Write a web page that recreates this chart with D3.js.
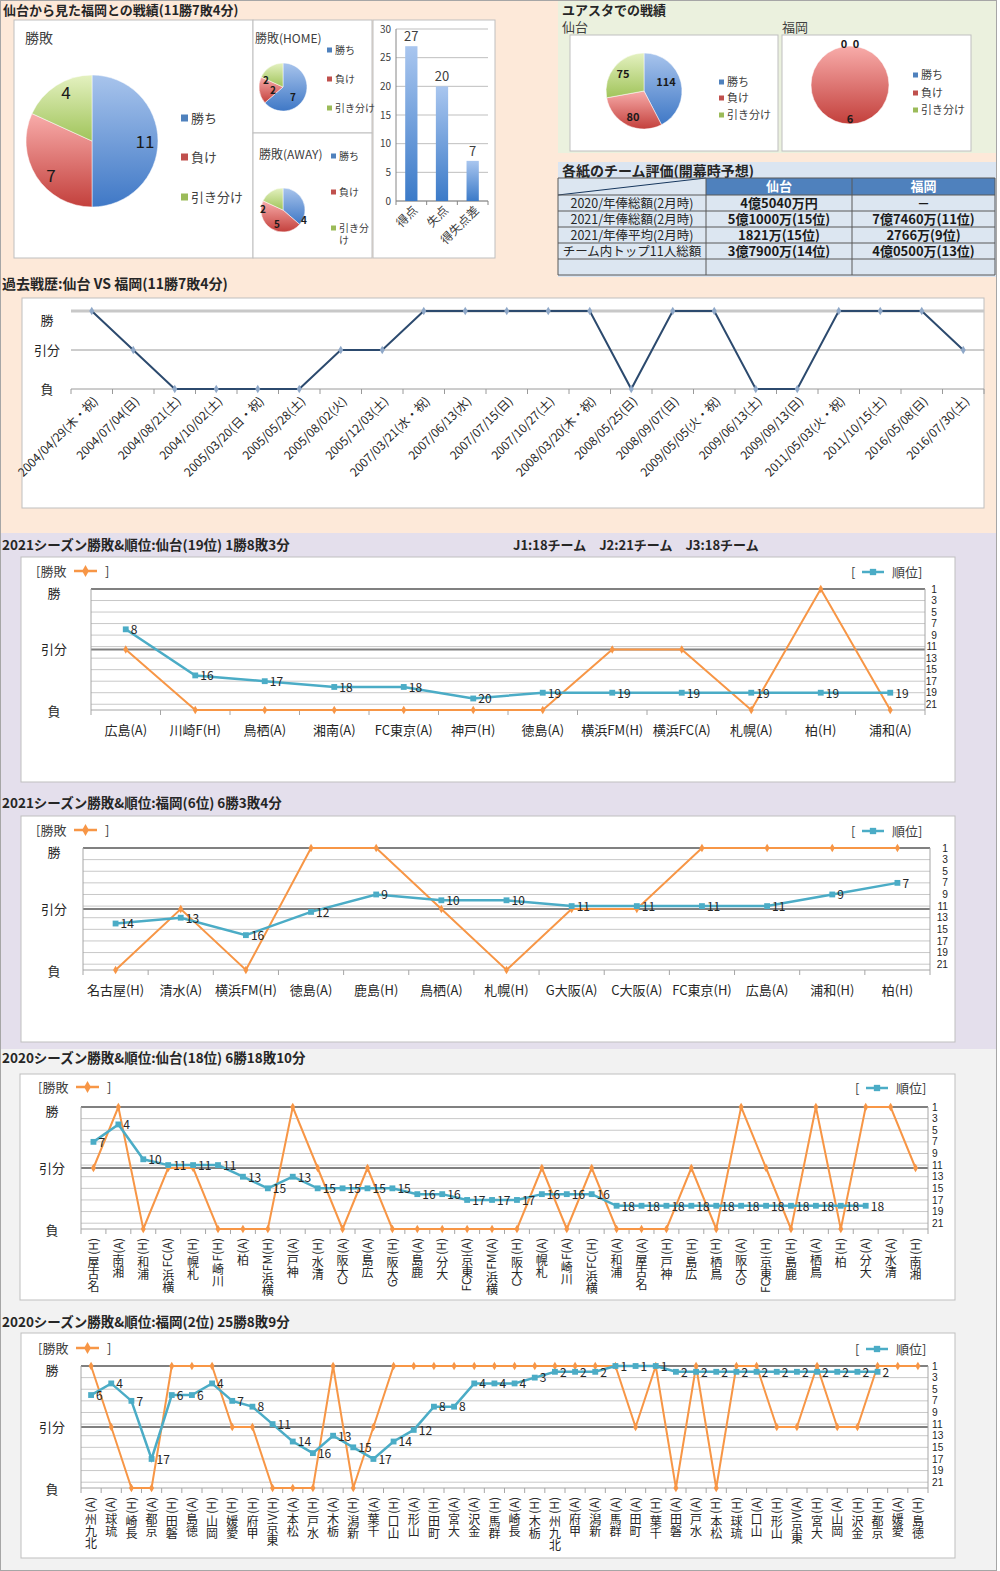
<!DOCTYPE html>
<html><head><meta charset="utf-8">
<script src="https://cdn.jsdelivr.net/npm/d3@7/dist/d3.min.js"></script>
<style>
body{margin:0;background:#fff}
svg{display:block}
text{font-family:"Noto Sans CJK JP","Noto Sans",sans-serif;fill:#262626}
text.num{font-family:"Liberation Sans","DejaVu Sans",sans-serif}
</style>
</head><body>
<svg id="c" width="1000" height="1571"></svg>
<script>
// ---------------- DATA ----------------
const pieLabels = ["勝ち", "負け", "引き分け"];
const totalRecord = [11, 7, 4];
const homeRecord = [7, 2, 2];
const awayRecord = [4, 5, 2];
const goalCats = ["得点", "失点", "得失点差"];
const goalVals = [27, 20, 7];
const goalTicks = [0, 5, 10, 15, 20, 25, 30];
const yuasutaSendai = [114, 80, 75];
const yuasutaFukuoka = [0, 6, 0];
const tableHead = ["", "仙台", "福岡"];
const tableCol1 = ["2020/年俸総額(2月時)", "2021/年俸総額(2月時)", "2021/年俸平均(2月時)", "チーム内トップ11人総額", ""];
const tableSendai = ["4億5040万円", "5億1000万(15位)", "1821万(15位)", "3億7900万(14位)", ""];
const tableFukuoka = ["－", "7億7460万(11位)", "2766万(9位)", "4億0500万(13位)", ""];
const resultLevels = ["勝", "引分", "負"];
const pastDates = ["2004/04/29(木・祝)", "2004/07/04(日)", "2004/08/21(土)", "2004/10/02(土)", "2005/03/20(日・祝)", "2005/05/28(土)", "2005/08/02(火)", "2005/12/03(土)", "2007/03/21(水・祝)", "2007/06/13(水)", "2007/07/15(日)", "2007/10/27(土)", "2008/03/20(木・祝)", "2008/05/25(日)", "2008/09/07(日)", "2009/05/05(火・祝)", "2009/06/13(土)", "2009/09/13(日)", "2011/05/03(火・祝)", "2011/10/15(土)", "2016/05/08(日)", "2016/07/30(土)"];
const pastResults = ["勝", "引分", "負", "負", "負", "負", "引分", "引分", "勝", "勝", "勝", "勝", "勝", "負", "勝", "勝", "負", "負", "勝", "勝", "勝", "引分"];

const s21SendaiCats = ["広島(A)", "川崎F(H)", "鳥栖(A)", "湘南(A)", "FC東京(A)", "神戸(H)", "徳島(A)", "横浜FM(H)", "横浜FC(A)", "札幌(A)", "柏(H)", "浦和(A)"];
const s21SendaiRes = ["引分", "負", "負", "負", "負", "負", "負", "引分", "引分", "負", "勝", "負"];
const s21SendaiRank = [8, 16, 17, 18, 18, 20, 19, 19, 19, 19, 19, 19];

const s21FukuokaCats = ["名古屋(H)", "清水(A)", "横浜FM(H)", "徳島(A)", "鹿島(H)", "鳥栖(A)", "札幌(H)", "G大阪(A)", "C大阪(A)", "FC東京(H)", "広島(A)", "浦和(H)", "柏(H)"];
const s21FukuokaRes = ["負", "引分", "負", "勝", "勝", "引分", "負", "引分", "引分", "勝", "勝", "勝", "勝"];
const s21FukuokaRank = [14, 13, 16, 12, 9, 10, 10, 11, 11, 11, 11, 9, 7];

const s20SendaiCats = ["名古屋(H)", "湘南(A)", "浦和(H)", "横浜FC(A)", "札幌(H)", "川崎F(H)", "柏(A)", "横浜FM(H)", "神戸(A)", "清水(H)", "C大阪(A)", "広島(A)", "G大阪(H)", "鹿島(A)", "大分(H)", "FC東京(A)", "横浜FM(A)", "C大阪(H)", "札幌(A)", "川崎F(A)", "横浜FC(H)", "浦和(A)", "名古屋(A)", "神戸(H)", "広島(H)", "鳥栖(H)", "G大阪(A)", "FC東京(H)", "鹿島(H)", "鳥栖(A)", "柏(H)", "大分(A)", "清水(A)", "湘南(H)"];
const s20SendaiRes = ["引分", "勝", "負", "引分", "引分", "負", "負", "負", "勝", "引分", "負", "引分", "負", "負", "負", "負", "負", "負", "引分", "負", "引分", "負", "負", "負", "引分", "負", "勝", "引分", "負", "勝", "負", "勝", "勝", "引分"];
const s20SendaiRank = [7, 4, 10, 11, 11, 11, 13, 15, 13, 15, 15, 15, 15, 16, 16, 17, 17, 17, 16, 16, 16, 18, 18, 18, 18, 18, 18, 18, 18, 18, 18, 18, null, null];

const s20FukuokaCats = ["北九州(A)", "琉球(A)", "長崎(H)", "京都(A)", "磐田(H)", "徳島(A)", "岡山(H)", "愛媛(H)", "甲府(H)", "東京V(H)", "松本(A)", "水戸(H)", "栃木(A)", "新潟(H)", "千葉(A)", "山口(H)", "山形(A)", "町田(H)", "大宮(A)", "金沢(A)", "群馬(H)", "長崎(A)", "栃木(H)", "北九州(H)", "甲府(A)", "新潟(A)", "群馬(A)", "町田(A)", "千葉(H)", "磐田(A)", "水戸(A)", "松本(H)", "琉球(H)", "山口(A)", "山形(H)", "東京V(A)", "大宮(H)", "岡山(A)", "金沢(H)", "京都(H)", "愛媛(A)", "徳島(H)"];
const s20FukuokaRes = ["勝", "引分", "負", "負", "勝", "勝", "勝", "引分", "引分", "負", "負", "負", "勝", "負", "引分", "勝", "勝", "勝", "勝", "勝", "勝", "勝", "勝", "勝", "勝", "勝", "勝", "引分", "勝", "負", "勝", "負", "勝", "勝", "引分", "引分", "勝", "引分", "引分", "勝", "勝", "勝"];
const s20FukuokaRank = [6, 4, 7, 17, 6, 6, 4, 7, 8, 11, 14, 16, 13, 15, 17, 14, 12, 8, 8, 4, 4, 4, 3, 2, 2, 2, 1, 1, 1, 2, 2, 2, 2, 2, 2, 2, 2, 2, 2, 2, null, null];
const rankTicks = [1, 3, 5, 7, 9, 11, 13, 15, 17, 19, 21];

// ---------------- DRAW ----------------
const svg = d3.select("#c");
const defs = svg.append("defs");
function vgrad(id, c1, c2) {
  const g = defs.append("linearGradient").attr("id", id).attr("x1", 0).attr("y1", 0).attr("x2", 0).attr("y2", 1);
  g.append("stop").attr("offset", "0%").attr("stop-color", c1);
  g.append("stop").attr("offset", "100%").attr("stop-color", c2);
}
vgrad("gBlue", "#a8c4ec", "#3f78c6");
vgrad("gRed", "#f8acaa", "#c3403c");
vgrad("gGreen", "#e4f1c0", "#a0c45a");
vgrad("gBar", "#a9c6ef", "#3b7ac8");
const pieFills = ["url(#gBlue)", "url(#gRed)", "url(#gGreen)"];
const legendColors = ["#4f81bd", "#c0504d", "#9bbb59"];
const ORANGE = "#f79646", TEAL = "#4bacc6";

function rect(x, y, w, h, fill, stroke, sw, parent) {
  return (parent || svg).append("rect").attr("x", x).attr("y", y).attr("width", w).attr("height", h)
    .attr("fill", fill).attr("stroke", stroke || "none").attr("stroke-width", sw || 1);
}
function txt(g, x, y, s, fs, opts) {
  opts = opts || {};
  const t = g.append("text").attr("x", x).attr("y", y).attr("font-size", fs).text(s);
  if (opts.anchor) t.attr("text-anchor", opts.anchor);
  if (opts.bold) t.attr("font-weight", "bold");
  if (opts.fill) t.style("fill", opts.fill);
  if (opts.dy) t.attr("dy", opts.dy);
  return t;
}

// backgrounds
rect(0, 0, 997, 533, "#fde9d9");
rect(558, 0, 438, 153, "#ebf1de");
rect(558, 162, 438, 115, "#dbe5f1");
rect(0, 533, 997, 516, "#e4dfec");
rect(0, 1049, 997, 522, "#f2f2f2");
rect(0.5, 0.5, 996, 1570, "none", "#a6a6a6");

// ---------- top-left: record ----------
txt(svg, 3, 15, "仙台から見た福岡との戦績(11勝7敗4分)", 13, { bold: true });
rect(14, 20, 239, 238, "#fff", "#bfbfbf");
rect(253, 20, 119, 113, "#fff", "#bfbfbf");
rect(253, 133, 119, 125, "#fff", "#bfbfbf");
rect(373, 20, 122, 238, "#fff", "#bfbfbf");

function drawPie(cx, cy, r, vals, labelOffsets, fs, bold) {
  const g = svg.append("g").attr("transform", `translate(${cx},${cy})`);
  const arcs = d3.pie().sort(null).value(d => d)(vals);
  const arc = d3.arc().innerRadius(0).outerRadius(r);
  g.selectAll("path").data(arcs.filter(a => a.value > 0)).join("path").attr("d", arc)
    .attr("fill", d => pieFills[d.index]).attr("stroke", "#fff").attr("stroke-width", 0.5);
  arcs.forEach((a, i) => {
    const o = labelOffsets[i];
    txt(g, o[0], o[1], String(vals[i]), fs, { anchor: "middle", bold: bold, dy: "0.35em", fill: "#1a1a1a" });
  });
}
function drawLegend(x, ys, fs, sq, labels) {
  labels = labels || pieLabels;
  labels.forEach((l, i) => {
    svg.append("rect").attr("x", x).attr("y", ys[i] - sq / 2).attr("width", sq).attr("height", sq).attr("fill", legendColors[i]);
    if (Array.isArray(l)) {
      l.forEach((part, k) => txt(svg, x + sq + 3, ys[i] + k * (fs + 2), part, fs, { dy: "0.35em", fill: "#404040" }));
    } else txt(svg, x + sq + 3, ys[i], l, fs, { dy: "0.35em", fill: "#404040" });
  });
}
txt(svg, 25, 43, "勝敗", 14, { fill: "#404040" });
drawPie(92, 141, 66, totalRecord, [[53, 1], [-41, 35], [-26, -48]], 17, false);
drawLegend(181, [118, 157, 197], 13, 7);

txt(svg, 255, 43, "勝敗(HOME)", 12, { fill: "#404040" });
drawPie(283, 87, 24, homeRecord, [[10, 10], [-10, 3], [-17, -7]], 10, true);
drawLegend(327, [50, 79, 108], 10, 5);

txt(svg, 259, 159, "勝敗(AWAY)", 12, { fill: "#404040" });
drawPie(283, 210, 22, awayRecord, [[21, 10], [-6, 14], [-20, -1]], 10, true);
drawLegend(331, [156, 192, 228], 10, 5, ["勝ち", "負け", ["引き分", "け"]]);

// bar chart
(function () {
  const g = svg.append("g");
  const x = d3.scaleBand().domain(goalCats).range([396, 488]).paddingInner(0.6).paddingOuter(0.3);
  const y = d3.scaleLinear().domain([0, 30]).range([201, 29]);
  g.selectAll(".gl").data(goalTicks).join("line").attr("x1", 396).attr("x2", 488)
    .attr("y1", d => y(d)).attr("y2", d => y(d)).attr("stroke", "#bfbfbf");
  g.selectAll(".tl").data(goalTicks).join("text").attr("x", 391).attr("y", d => y(d)).attr("dy", "0.35em")
    .attr("text-anchor", "end").attr("font-size", 10).style("fill", "#404040").text(d => d);
  g.append("line").attr("x1", 396).attr("x2", 396).attr("y1", 29).attr("y2", 201).attr("stroke", "#868686");
  g.append("line").attr("x1", 396).attr("x2", 488).attr("y1", 201).attr("y2", 201).attr("stroke", "#868686");
  const step = (488 - 396) / goalCats.length;
  d3.range(goalCats.length + 1).forEach(i => g.append("line").attr("x1", 396 + i * step).attr("x2", 396 + i * step)
    .attr("y1", 201).attr("y2", 205).attr("stroke", "#868686"));
  g.selectAll(".bar").data(goalVals).join("rect").attr("x", (d, i) => x(goalCats[i])).attr("width", x.bandwidth())
    .attr("y", d => y(d)).attr("height", d => 201 - y(d)).attr("fill", "url(#gBar)");
  g.selectAll(".bl").data(goalVals).join("text").attr("x", (d, i) => x(goalCats[i]) + x.bandwidth() / 2)
    .attr("y", d => y(d) - 5).attr("text-anchor", "middle").attr("font-size", 13).style("fill", "#404040").text(d => d);
  goalCats.forEach(c => {
    const cx = x(c) + x.bandwidth() / 2;
    g.append("text").attr("transform", `translate(${cx + 4},${208}) rotate(-45)`).attr("text-anchor", "end")
      .attr("dy", "0.35em").attr("font-size", 12).style("fill", "#404040").text(c);
  });
})();

// ---------- top-right: Yuasuta ----------
txt(svg, 562, 15, "ユアスタでの戦績", 13, { bold: true });
txt(svg, 562, 32, "仙台", 13, { fill: "#404040" });
txt(svg, 782, 32, "福岡", 13, { fill: "#404040" });
rect(570, 35, 208, 116, "#fff", "#bfbfbf");
rect(782, 35, 189, 116, "#fff", "#bfbfbf");
drawPie(644, 91, 38, yuasutaSendai, [[22, -9], [-11, 26], [-21, -17]], 11, true);
drawLegend(719, [82, 98, 115], 11, 5);
drawPie(850, 85, 39, yuasutaFukuoka, [[-6, -41], [0, 34], [6, -41]], 11, true);
drawLegend(913, [75, 93, 110], 11, 5);

// table
txt(svg, 562, 176, "各紙のチーム評価(開幕時予想)", 14, { bold: true });
(function () {
  const colX = [558, 706, 852, 995];
  const rowY = [178, 195, 211, 227, 243, 259, 275];
  const g = svg.append("g");
  g.append("rect").attr("x", colX[0]).attr("y", rowY[0]).attr("width", colX[3] - colX[0]).attr("height", rowY[6] - rowY[0])
    .attr("fill", "#dce6f1");
  g.append("rect").attr("x", colX[1]).attr("y", rowY[0]).attr("width", colX[3] - colX[1]).attr("height", rowY[1] - rowY[0])
    .attr("fill", "#4f81bd");
  g.append("line").attr("x1", colX[0]).attr("y1", rowY[1]).attr("x2", colX[1]).attr("y2", rowY[0]).attr("stroke", "#17375e").attr("stroke-width", 1);
  rowY.forEach(yy => g.append("line").attr("x1", colX[0]).attr("x2", colX[3]).attr("y1", yy).attr("y2", yy).attr("stroke", "#595959").attr("stroke-width", 1));
  colX.forEach(xx => g.append("line").attr("x1", xx).attr("x2", xx).attr("y1", rowY[0]).attr("y2", rowY[6]).attr("stroke", "#595959").attr("stroke-width", 1));
  const mid = i => (colX[i] + colX[i + 1]) / 2;
  [1, 2].forEach(c => txt(g, mid(c), (rowY[0] + rowY[1]) / 2, tableHead[c], 13, { anchor: "middle", bold: true, dy: "0.36em", fill: "#fff" }));
  tableCol1.forEach((s, r) => {
    const cy = (rowY[r + 1] + rowY[r + 2]) / 2;
    txt(g, mid(0), cy, s, 12.5, { anchor: "middle", dy: "0.36em", fill: "#262626" });
    txt(g, mid(1), cy, tableSendai[r], 13, { anchor: "middle", bold: true, dy: "0.36em", fill: "#1a1a1a" });
    txt(g, mid(2), cy, tableFukuoka[r], 13, { anchor: "middle", bold: true, dy: "0.36em", fill: "#1a1a1a" });
  });
})();

// ---------- past battles ----------
txt(svg, 2, 289, "過去戦歴:仙台 VS 福岡(11勝7敗4分)", 14, { bold: true });
(function () {
  const g = svg.append("g");
  rect(22, 298, 962, 210, "#fff", "#bfbfbf", 1, g);
  const x = d3.scaleBand().domain(d3.range(pastDates.length)).range([71, 984]);
  const y = d3.scalePoint().domain(resultLevels).range([311, 389]);
  g.append("line").attr("x1", 71).attr("x2", 984).attr("y1", y("勝")).attr("y2", y("勝")).attr("stroke", "#c8c8c8").attr("stroke-width", 3);
  g.append("line").attr("x1", 71).attr("x2", 984).attr("y1", y("引分")).attr("y2", y("引分")).attr("stroke", "#9a9a9a");
  g.append("line").attr("x1", 71).attr("x2", 984).attr("y1", y("負")).attr("y2", y("負")).attr("stroke", "#9a9a9a");
  d3.range(pastDates.length + 1).forEach(i => {
    const xx = 71 + i * x.step();
    g.append("line").attr("x1", xx).attr("x2", xx).attr("y1", 389).attr("y2", 394).attr("stroke", "#9a9a9a");
  });
  const labOff = { "勝": 9, "引分": 0, "負": 0 };
  resultLevels.forEach(l => txt(g, 47, y(l) + labOff[l], l, 13, { anchor: "middle", dy: "0.35em", fill: "#262626" }));
  const line = d3.line().x((d, i) => x(i) + x.bandwidth() / 2).y(d => y(d));
  g.append("path").attr("d", line(pastResults)).attr("fill", "none").attr("stroke", "#2c4a6e").attr("stroke-width", 2);
  g.selectAll(".pm").data(pastResults).join("path")
    .attr("transform", (d, i) => `translate(${x(i) + x.bandwidth() / 2},${y(d)})`)
    .attr("d", d3.symbol().type(d3.symbolDiamond).size(22)).attr("fill", "#8fa8c8");
  pastDates.forEach((s, i) => {
    const cx = x(i) + x.bandwidth() / 2;
    g.append("text").attr("transform", `translate(${cx + 4},${399}) rotate(-45)`).attr("text-anchor", "end")
      .attr("dy", "0.35em").attr("font-size", 12).style("fill", "#262626").text(s);
  });
})();

// ---------- season charts ----------
// vertical label: whole label rotated -90 (reads bottom-to-top); CJK glyphs turned back upright
function vertLabel(g, cx, ytop, str, fs) {
  const t = g.append("text").attr("transform", `translate(${cx},${ytop}) rotate(-90)`)
    .attr("text-anchor", "end").attr("font-size", fs).style("fill", "#262626");
  const runs = [];
  Array.from(str).forEach(ch => {
    const cjk = !/[\x00-\x7f]/.test(ch);
    if (runs.length && runs[runs.length - 1].cjk === cjk) runs[runs.length - 1].s += ch;
    else runs.push({ cjk, s: ch });
  });
  const asciiBase = fs * 0.35, cjkBase = -fs * 0.5;
  let cur = 0;
  runs.forEach((r, k) => {
    const target = r.cjk ? cjkBase : asciiBase;
    const ts = t.append("tspan").attr("dy", target - cur).text(r.s);
    if (k === 0) ts.attr("x", 0);
    if (r.cjk) ts.attr("rotate", 90);
    cur = target;
  });
}

function season(cfg) {
  const g = svg.append("g");
  txt(g, 2, cfg.titleY, cfg.title, 13.5, { bold: true });
  const p = cfg.panel;
  g.append("rect").attr("x", p[0]).attr("y", p[1]).attr("width", p[2] - p[0]).attr("height", p[3] - p[1])
    .attr("fill", "#fff").attr("stroke", "#bfbfbf");
  const { x0, x1, y0, y1 } = cfg;
  const x = d3.scaleBand().domain(d3.range(cfg.cats.length)).range([x0, x1]);
  const cxOf = i => x(i) + x.bandwidth() / 2;
  const yL = d3.scalePoint().domain(resultLevels).range([y0, y1]);
  const yR = d3.scaleLinear().domain([1, 22]).range([y0, y1]);
  g.selectAll(".rg").data(rankTicks).join("line").attr("x1", x0).attr("x2", x1)
    .attr("y1", d => yR(d)).attr("y2", d => yR(d)).attr("stroke", "#c8c8c8");
  ["勝", "引分"].forEach(l => g.append("line").attr("x1", x0).attr("x2", x1).attr("y1", yL(l)).attr("y2", yL(l))
    .attr("stroke", "#808080").attr("stroke-width", 2));
  g.append("line").attr("x1", x0).attr("x2", x1).attr("y1", y1).attr("y2", y1).attr("stroke", "#a6a6a6");
  g.append("line").attr("x1", x0).attr("x2", x0).attr("y1", y0).attr("y2", y1).attr("stroke", "#a6a6a6");
  g.append("line").attr("x1", x1).attr("x2", x1).attr("y1", y0).attr("y2", y1).attr("stroke", "#a6a6a6");
  d3.range(cfg.cats.length + 1).forEach(i => {
    const xx = x0 + i * x.step();
    g.append("line").attr("x1", xx).attr("x2", xx).attr("y1", y1).attr("y2", y1 + 5).attr("stroke", "#a6a6a6");
  });
  // right axis ticks
  g.selectAll(".rt").data(rankTicks).join("text").attr("class", "num").attr("x", cfg.rankTickX).attr("y", d => yR(d) + 3.6)
    .attr("text-anchor", cfg.rankTickAnchor).attr("font-size", 10.2).style("fill", "#262626").text(d => d);
  // left labels
  const lOff = { "勝": 4, "引分": 0, "負": 1 };
  resultLevels.forEach(l => txt(g, cfg.leftX, yL(l) + lOff[l], l, 13, { anchor: "middle", dy: "0.35em" }));
  // x labels
  cfg.cats.forEach((c, i) => {
    if (cfg.vertical) vertLabel(g, cxOf(i), y1 + 9, c, 12);
    else txt(g, cxOf(i), cfg.xLabY, c, 13, { anchor: "middle" });
  });
  // legends
  const ly = cfg.legendY;
  txt(g, cfg.legL, ly, "[勝敗", 13, { dy: "0.35em", fill: "#404040" });
  g.append("line").attr("x1", cfg.legL + 38).attr("x2", cfg.legL + 61).attr("y1", ly).attr("y2", ly).attr("stroke", ORANGE).attr("stroke-width", 2.5);
  g.append("path").attr("transform", `translate(${cfg.legL + 49.5},${ly})`).attr("d", d3.symbol().type(d3.symbolDiamond).size(40)).attr("fill", ORANGE);
  txt(g, cfg.legL + 69, ly, "]", 13, { dy: "0.35em", fill: "#404040" });
  const lr = cfg.legR;
  txt(g, lr, ly + 1, "[", 13, { dy: "0.35em", fill: "#404040" });
  g.append("line").attr("x1", lr + 11).attr("x2", lr + 33).attr("y1", ly + 1).attr("y2", ly + 1).attr("stroke", TEAL).attr("stroke-width", 2.5);
  g.append("path").attr("transform", `translate(${lr + 22},${ly + 1})`).attr("d", d3.symbol().type(d3.symbolSquare).size(40)).attr("fill", TEAL);
  txt(g, lr + 41, ly + 1, "順位]", 13, { dy: "0.35em", fill: "#404040" });
  // result line
  const lineR = d3.line().x((d, i) => cxOf(i)).y(d => yL(d));
  g.append("path").attr("d", lineR(cfg.res)).attr("fill", "none").attr("stroke", ORANGE).attr("stroke-width", 2);
  g.selectAll(".om").data(cfg.res).join("path").attr("transform", (d, i) => `translate(${cxOf(i)},${yL(d)})`)
    .attr("d", d3.symbol().type(d3.symbolDiamond).size(22)).attr("fill", ORANGE);
  // rank line
  const lineK = d3.line().defined(d => d != null).x((d, i) => cxOf(i)).y(d => yR(d));
  g.append("path").attr("d", lineK(cfg.rank)).attr("fill", "none").attr("stroke", TEAL).attr("stroke-width", 2.5);
  cfg.rank.forEach((d, i) => {
    if (d == null) return;
    g.append("path").attr("transform", `translate(${cxOf(i)},${yR(d)})`)
      .attr("d", d3.symbol().type(d3.symbolSquare).size(34)).attr("fill", TEAL);
    txt(g, cxOf(i) + 5, yR(d), String(d), 12, { dy: "0.4em", fill: "#262626" });
  });
}

txt(svg, 513, 550, "J1:18チーム　J2:21チーム　J3:18チーム", 13, { bold: true });
season({
  title: "2021シーズン勝敗&順位:仙台(19位) 1勝8敗3分", titleY: 550,
  panel: [21, 557, 955, 782], x0: 91, x1: 925, y0: 589, y1: 710,
  cats: s21SendaiCats, res: s21SendaiRes, rank: s21SendaiRank,
  vertical: false, xLabY: 735, rankTickX: 937, rankTickAnchor: "end", leftX: 54,
  legendY: 571, legL: 36, legR: 851
});
season({
  title: "2021シーズン勝敗&順位:福岡(6位) 6勝3敗4分", titleY: 808,
  panel: [21, 816, 955, 1042], x0: 83, x1: 930, y0: 848, y1: 970,
  cats: s21FukuokaCats, res: s21FukuokaRes, rank: s21FukuokaRank,
  vertical: false, xLabY: 995, rankTickX: 948, rankTickAnchor: "end", leftX: 54,
  legendY: 830, legL: 36, legR: 851
});
season({
  title: "2020シーズン勝敗&順位:仙台(18位) 6勝18敗10分", titleY: 1063,
  panel: [20, 1074, 955, 1300], x0: 81, x1: 928, y0: 1107, y1: 1229,
  cats: s20SendaiCats, res: s20SendaiRes, rank: s20SendaiRank,
  vertical: true, rankTickX: 932, rankTickAnchor: "start", leftX: 52,
  legendY: 1087, legL: 38, legR: 855
});
season({
  title: "2020シーズン勝敗&順位:福岡(2位) 25勝8敗9分", titleY: 1327,
  panel: [21, 1333, 955, 1558], x0: 81, x1: 928, y0: 1366, y1: 1488,
  cats: s20FukuokaCats, res: s20FukuokaRes, rank: s20FukuokaRank,
  vertical: true, rankTickX: 932, rankTickAnchor: "start", leftX: 52,
  legendY: 1348, legL: 38, legR: 855
});
</script>
</body></html>
